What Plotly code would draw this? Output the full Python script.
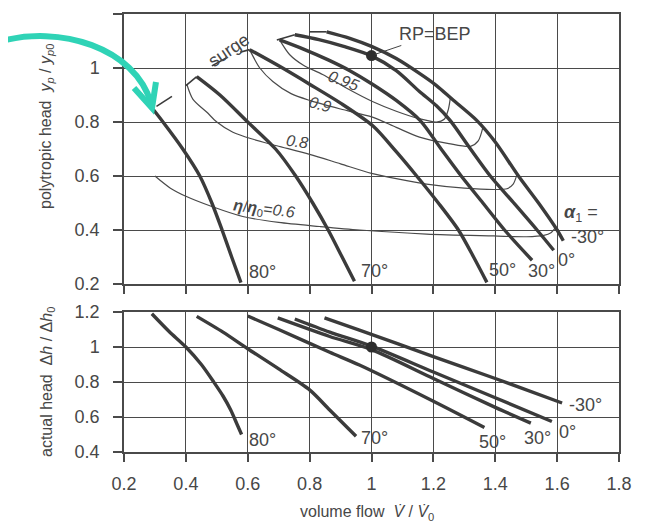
import plotly.graph_objects as go

# ---------------- data ----------------
# top panel: polytropic head, speed lines for inlet guide vane angle alpha1
a80_x = [0.294, 0.326, 0.39, 0.445, 0.484, 0.517, 0.548, 0.578]
a80_y = [0.847, 0.80, 0.70, 0.60, 0.50, 0.40, 0.30, 0.205]
a70_x = [0.435, 0.51, 0.60, 0.69, 0.755, 0.81, 0.86, 0.905, 0.945]
a70_y = [0.968, 0.90, 0.80, 0.70, 0.60, 0.50, 0.40, 0.30, 0.21]
a50_x = [0.606, 0.70, 0.80, 0.90, 1.005, 1.08, 1.146, 1.216, 1.281, 1.33, 1.373]
a50_y = [1.068, 1.008, 0.94, 0.87, 0.785, 0.69, 0.60, 0.50, 0.40, 0.30, 0.206]
a30_x = [0.703, 0.78, 0.86, 0.93, 1.003, 1.08, 1.157, 1.225, 1.29, 1.36, 1.43, 1.519]
a30_y = [1.104, 1.07, 1.03, 0.99, 0.94, 0.88, 0.806, 0.70, 0.60, 0.50, 0.40, 0.288]
a0_x = [0.752, 0.83, 0.91, 1.0, 1.08, 1.155, 1.21, 1.254, 1.32, 1.384, 1.46, 1.535, 1.589]
a0_y = [1.123, 1.105, 1.08, 1.045, 0.99, 0.913, 0.86, 0.806, 0.70, 0.60, 0.50, 0.40, 0.325]
am30_x = [0.855, 0.93, 1.0, 1.08, 1.155, 1.21, 1.261, 1.34, 1.40, 1.475, 1.54, 1.60, 1.62]
am30_y = [1.134, 1.11, 1.08, 1.035, 0.98, 0.935, 0.884, 0.806, 0.726, 0.60, 0.50, 0.40, 0.36]

# efficiency contours eta/eta0
e95_x = [0.703, 0.735, 0.78, 0.842, 0.92, 1.003, 1.08, 1.155, 1.21, 1.235, 1.248, 1.255]
e95_y = [1.104, 1.05, 1.01, 0.976, 0.925, 0.876, 0.84, 0.812, 0.80, 0.81, 0.845, 0.89]
e90_x = [0.606, 0.639, 0.681, 0.74, 0.80, 0.90, 1.003, 1.08, 1.155, 1.25, 1.32, 1.345, 1.36]
e90_y = [1.068, 1.0, 0.95, 0.905, 0.88, 0.848, 0.818, 0.78, 0.744, 0.72, 0.71, 0.73, 0.78]
e80_x = [0.403, 0.423, 0.468, 0.50, 0.552, 0.62, 0.694, 0.80, 0.90, 1.0, 1.08, 1.178, 1.30, 1.40, 1.438, 1.458, 1.47]
e80_y = [0.94, 0.884, 0.836, 0.80, 0.762, 0.735, 0.712, 0.68, 0.645, 0.61, 0.59, 0.57, 0.555, 0.55, 0.553, 0.57, 0.605]
e60_x = [0.30, 0.35, 0.40, 0.484, 0.584, 0.70, 0.832, 0.962, 1.178, 1.395, 1.50, 1.557, 1.58, 1.595]
e60_y = [0.60, 0.555, 0.525, 0.487, 0.45, 0.428, 0.413, 0.40, 0.385, 0.378, 0.375, 0.38, 0.39, 0.41]

# surge line (broken segments)
surge_x = [0.305, 0.355, None, 0.40, 0.435, None, 0.484, 0.532, None, 0.575, 0.606, None, 0.694, 0.752, None, 0.80, 0.855]
surge_y = [0.858, 0.895, None, 0.935, 0.968, None, 1.008, 1.038, None, 1.058, 1.068, None, 1.104, 1.123, None, 1.134, 1.134]

bep_top = (1.0, 1.046)
bep_bot = (1.0, 1.0)

# bottom panel: actual head
b80_x = [0.29, 0.345, 0.40, 0.45, 0.49, 0.52, 0.545, 0.565, 0.58]
b80_y = [1.19, 1.09, 1.0, 0.90, 0.80, 0.72, 0.64, 0.56, 0.50]
b70_x = [0.435, 0.52, 0.60, 0.70, 0.80, 0.865, 0.95]
b70_y = [1.175, 1.085, 0.99, 0.875, 0.755, 0.64, 0.49]
b50_x = [0.60, 0.70, 0.865, 0.961, 1.2, 1.365]
b50_y = [1.177, 1.10, 0.97, 0.897, 0.69, 0.54]
b30_x = [0.697, 0.865, 1.0, 1.2, 1.4, 1.515]
b30_y = [1.166, 1.06, 0.985, 0.82, 0.655, 0.565]
b0_x = [0.752, 0.865, 1.0, 1.2, 1.4, 1.583]
b0_y = [1.16, 1.085, 1.005, 0.857, 0.71, 0.574]
bm30_x = [0.848, 0.961, 1.2, 1.4, 1.616]
bm30_y = [1.166, 1.097, 0.945, 0.82, 0.68]

# curve labels
top_lbl_text = ["80°", "70°", "50°", "30°", "0°", "-30°"]
top_lbl_x = [0.596, 0.961, 1.372, 1.499, 1.596, 1.639]
top_lbl_y = [0.244, 0.249, 0.253, 0.249, 0.289, 0.375]
bot_lbl_text = ["80°", "70°", "50°", "30°", "0°", "-30°"]
bot_lbl_x = [0.596, 0.961, 1.342, 1.486, 1.60, 1.632]
bot_lbl_y = [0.469, 0.478, 0.459, 0.478, 0.516, 0.669]

x_ticks = [0.2, 0.4, 0.6, 0.8, 1.0, 1.2, 1.4, 1.6, 1.8]
x_tick_text = ["0.2", "0.4", "0.6", "0.8", "1", "1.2", "1.4", "1.6", "1.8"]
y_top_ticks = [0.2, 0.4, 0.6, 0.8, 1.0, 1.2]
y_top_text = ["0.2", "0.4", "0.6", "0.8", "1", "1.2"]
y_bot_ticks = [0.4, 0.6, 0.8, 1.0, 1.2]
y_bot_text = ["0.4", "0.6", "0.8", "1", "1.2"]

# ---------------- styling ----------------
FONT = "Liberation Sans, Arial, sans-serif"
TXT = "#474747"
GRID = "#4a4a4a"
thick = dict(color="#3b3b3b", width=3.4, shape="spline", smoothing=0.8)
thin = dict(color="#4a4a4a", width=1.2, shape="spline", smoothing=0.8)

# the page adds an 8 px body margin, so the figure is shifted by that amount
OFF = 8
PX0, PX1, PY0, PY1 = 124, 619, 14, 452          # plot area on screen
W, H = 656 - OFF, 525 - OFF
L, T = PX0 - OFF, PY0 - OFF
R, B = W - (PX1 - OFF), H - (PY1 - OFF)
top_dom = [(PY1 - 284) / (PY1 - PY0), 1.0]
bot_dom = [0.0, (PY1 - 312) / (PY1 - PY0)]

fig = go.Figure()

def line(x, y, style, xa="x", ya="y"):
    fig.add_trace(go.Scatter(x=x, y=y, mode="lines", line=style, xaxis=xa, yaxis=ya,
                             hoverinfo="skip", showlegend=False))

for xs, ys in [(e60_x, e60_y), (e80_x, e80_y), (e90_x, e90_y), (e95_x, e95_y)]:
    line(xs, ys, thin)
fig.add_trace(go.Scatter(x=surge_x, y=surge_y, mode="lines",
                         line=dict(color="#3b3b3b", width=1.6), xaxis="x", yaxis="y",
                         hoverinfo="skip", showlegend=False, connectgaps=False))
for xs, ys in [(a80_x, a80_y), (a70_x, a70_y), (a50_x, a50_y), (a30_x, a30_y),
               (a0_x, a0_y), (am30_x, am30_y)]:
    line(xs, ys, thick)
for xs, ys in [(b80_x, b80_y), (b70_x, b70_y), (b50_x, b50_y), (b30_x, b30_y),
               (b0_x, b0_y), (bm30_x, bm30_y)]:
    line(xs, ys, thick, "x2", "y2")

fig.add_trace(go.Scatter(x=[bep_top[0]], y=[bep_top[1]], mode="markers",
                         marker=dict(color="#2e2e2e", size=11), xaxis="x", yaxis="y",
                         hoverinfo="skip", showlegend=False))
fig.add_trace(go.Scatter(x=[bep_bot[0]], y=[bep_bot[1]], mode="markers",
                         marker=dict(color="#2e2e2e", size=11), xaxis="x2", yaxis="y2",
                         hoverinfo="skip", showlegend=False))

ann = []
def lab(text, x, y, xref="x", yref="y", size=18, angle=0, xanchor="left", yanchor="middle"):
    ann.append(dict(text=text, x=x, y=y, xref=xref, yref=yref, showarrow=False,
                    xanchor=xanchor, yanchor=yanchor, textangle=angle,
                    font=dict(family=FONT, size=size, color=TXT)))

for t, x, y in zip(top_lbl_text, top_lbl_x, top_lbl_y):
    lab(t, x, y)
for t, x, y in zip(bot_lbl_text, bot_lbl_x, bot_lbl_y):
    lab(t, x, y, "x2", "y2")
lab("<b><i>α</i></b><sub>1</sub> =", 1.616, 0.461)
lab("surge", 0.539, 1.068, size=18, angle=-34, xanchor="center")
lab("<i>0.95</i>", 0.908, 0.954, size=16, angle=20, xanchor="center")
lab("<i>0.9</i>", 0.835, 0.866, size=16, angle=15, xanchor="center")
lab("<i>0.8</i>", 0.758, 0.726, size=16, angle=8, xanchor="center")
lab("<b><i>η</i></b>/<b><i>η</i></b><sub>0</sub>=<i>0.6</i>", 0.652, 0.475, size=16, angle=7,
    xanchor="center")

ann.append(dict(text="RP=BEP", x=bep_top[0], y=bep_top[1], ax=1.206, ay=1.126,
                xref="x", yref="y", axref="x", ayref="y", showarrow=True, arrowhead=0,
                arrowwidth=1, arrowcolor="#444", standoff=4,
                font=dict(family=FONT, size=18, color=TXT)))

def px2paper(px, py):
    return (px - PX0) / (PX1 - PX0), (PY1 - py) / (PY1 - PY0)

lab("polytropic head  <i>y</i><sub><i>p</i></sub> / <i>y</i><sub><i>p</i>0</sub>",
    *px2paper(47, 127), xref="paper", yref="paper", size=16, angle=-90, xanchor="center")
lab("actual head  Δ<i>h</i> / Δ<i>h</i><sub>0</sub>",
    *px2paper(47, 382), xref="paper", yref="paper", size=16, angle=-90, xanchor="center")
lab("volume flow  <i>V̇</i> / <i>V̇</i><sub>0</sub>",
    *px2paper(367, 513), xref="paper", yref="paper", size=16, xanchor="center")

# teal call-out arrow
def pt(px, py):
    a, b = px2paper(px, py)
    return f"{a:.4f},{b:.4f}"
arrow_color = "#2fd3b6"
shapes = [
    dict(type="path", xref="paper", yref="paper",
         path=f"M {pt(-2,42)} C {pt(60,24)} {pt(135,48)} {pt(151,103)}",
         line=dict(color=arrow_color, width=6)),
    dict(type="path", xref="paper", yref="paper",
         path=f"M {pt(134,88)} L {pt(152,108)} L {pt(156,82)}",
         line=dict(color=arrow_color, width=6)),
]

axis_common = dict(range=[0.2, 1.8], showgrid=True, gridcolor=GRID, gridwidth=1.3,
                   showline=True, mirror=True, linecolor=GRID, linewidth=1.5,
                   ticks="outside", ticklen=8, tickwidth=1.5, tickcolor=GRID,
                   zeroline=False, tickvals=x_ticks, ticktext=x_tick_text,
                   automargin=False,
                   tickfont=dict(family=FONT, size=18, color=TXT))
yaxis_common = dict(showgrid=True, gridcolor=GRID, gridwidth=1.3,
                    showline=True, mirror=True, linecolor=GRID, linewidth=1.5,
                    ticks="outside", ticklen=9, tickwidth=1.5, tickcolor=GRID,
                    zeroline=False, automargin=False,
                    tickfont=dict(family=FONT, size=18, color=TXT),
                    ticklabelstandoff=10)

fig.update_layout(
    template="none",
    width=W, height=H, margin=dict(l=L, r=R, t=T, b=B, autoexpand=False),
    paper_bgcolor="white", plot_bgcolor="white",
    xaxis=dict(axis_common, domain=[0, 1], anchor="y", showticklabels=False),
    yaxis=dict(yaxis_common, domain=top_dom, range=[0.2, 1.2], anchor="x",
               tickvals=y_top_ticks, ticktext=y_top_text),
    xaxis2=dict(axis_common, domain=[0, 1], anchor="y2", ticklabelstandoff=7),
    yaxis2=dict(yaxis_common, domain=bot_dom, range=[0.4, 1.2], anchor="x2",
                tickvals=y_bot_ticks, ticktext=y_bot_text),
    annotations=ann, shapes=shapes, showlegend=False,
)

fig.write_html("out.html")
